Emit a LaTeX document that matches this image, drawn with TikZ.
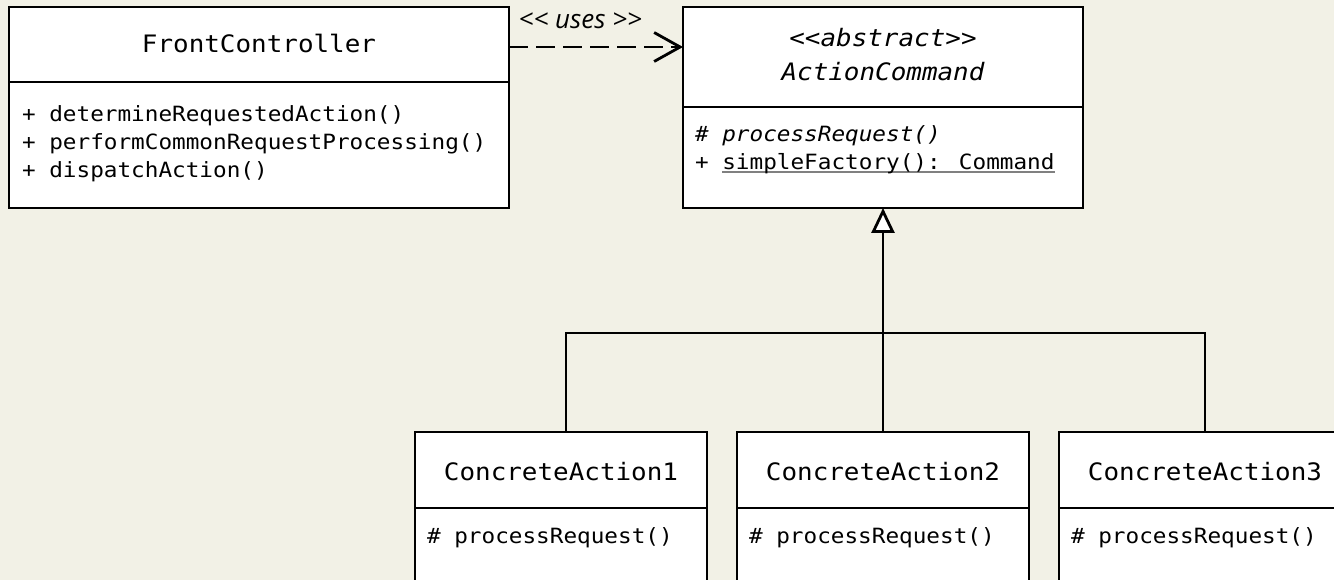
\documentclass[tikz,border=0pt]{standalone}
\usepackage{fontspec}
\usetikzlibrary{arrows.meta,calc}
\newfontfamily\umlmono[FakeStretch=1.08]{DejaVu Sans Mono}
\newfontfamily\umllabel{Open Sans}
\definecolor{canvas}{RGB}{242,241,230}
\newcommand\titlefont{\umlmono\fontsize{24}{29}\selectfont}
\newcommand\opfont{\umlmono\fontsize{21}{28}\selectfont}
\newcommand\dlt{<\kern0pt<}
\newcommand\dgt{>\kern0pt>}
% static member: grey underline under the text
\newcommand\ulgray[1]{\setbox0\hbox{#1}\rlap{\color{gray}\rule[-2.6pt]{\wd0}{1.3pt}}\box0}
\begin{document}
\begin{tikzpicture}[x=1pt,y=-1pt, line width=2.8pt,
  classbox/.style={draw=black, fill=white, rectangle, anchor=north west,
    inner sep=0pt, outer sep=0pt},
  txt/.style={inner sep=0pt, outer sep=0pt},
  dep/.style={dash pattern=on 19pt off 8pt,
    -{Straight Barb[length=26pt,width=29pt]}},
  inherit/.style={-{Triangle[open,length=25pt,width=23pt,fill=white]}}]
\fill[canvas] (0,0) rectangle (1334,580);
\useasboundingbox (0,0) rectangle (1334,580);
\clip (0,0) rectangle (1334,580);

% FrontController
\node[classbox, minimum width=500pt, minimum height=75pt] (fc) at (9,7) {};
\node[classbox, minimum width=500pt, minimum height=126pt] (fcops) at (9,82) {};
\node[txt, anchor=base] (fcname) at ($(fc.north)+(0,46)$) {\titlefont FrontController};
\node[txt, anchor=base west] (fcop1) at ($(fcops.north west)+(13,40)$) {\opfont + determineRequestedAction()};
\node[txt, anchor=base west] (fcop2) at ($(fcops.north west)+(13,68)$) {\opfont + performCommonRequestProcessing()};
\node[txt, anchor=base west] (fcop3) at ($(fcops.north west)+(13,96)$) {\opfont + dispatchAction()};

% ActionCommand
\node[classbox, minimum width=400pt, minimum height=100pt] (ac) at (683,7) {};
\node[classbox, minimum width=400pt, minimum height=101pt] (acops) at (683,107) {};
\node[txt, anchor=base] (acstereo) at ($(ac.north)+(0,40)$) {\titlefont\itshape \dlt abstract\dgt};
\node[txt, anchor=base] (acname) at ($(ac.north)+(0,74)$) {\titlefont\itshape ActionCommand};
\node[txt, anchor=base west] (acop1) at ($(acops.north west)+(12,35)$) {\opfont\itshape \# processRequest()};
\node[txt, anchor=base west] (acop2) at ($(acops.north west)+(12,63)$) {\opfont + \ulgray{simpleFactory(): Command}};

% concrete actions
\foreach \i/\x in {1/415, 2/737, 3/1059} {
  \node[classbox, minimum width=292pt, minimum height=76pt] (ca\i) at (\x,432) {};
  \node[classbox, minimum width=292pt, minimum height=100pt] (ca\i ops) at (\x,508) {};
  \node[txt, anchor=base] (ca\i name) at ($(ca\i.north)+(0,48)$) {\titlefont ConcreteAction\i};
  \node[txt, anchor=base west] (ca\i op) at ($(ca\i ops.north west)+(12,35)$) {\opfont \# processRequest()};
}

% dependency
\draw[dep] ([yshift=-40pt]fc.north east) -- ([yshift=-40pt]ac.north west)
  node[txt, pos=0.41, anchor=base, yshift=18pt] (uses) {\umllabel\fontsize{26}{30}\selectfont\itshape \dlt{} uses \dgt};

% generalisation
\coordinate (bus) at (883,333);
\draw ([xshift=5pt]ca1.north) |- (bus) -| (ca3.north);
\draw[inherit] (ca2.north) -- (acops.south);
\end{tikzpicture}
\end{document}
